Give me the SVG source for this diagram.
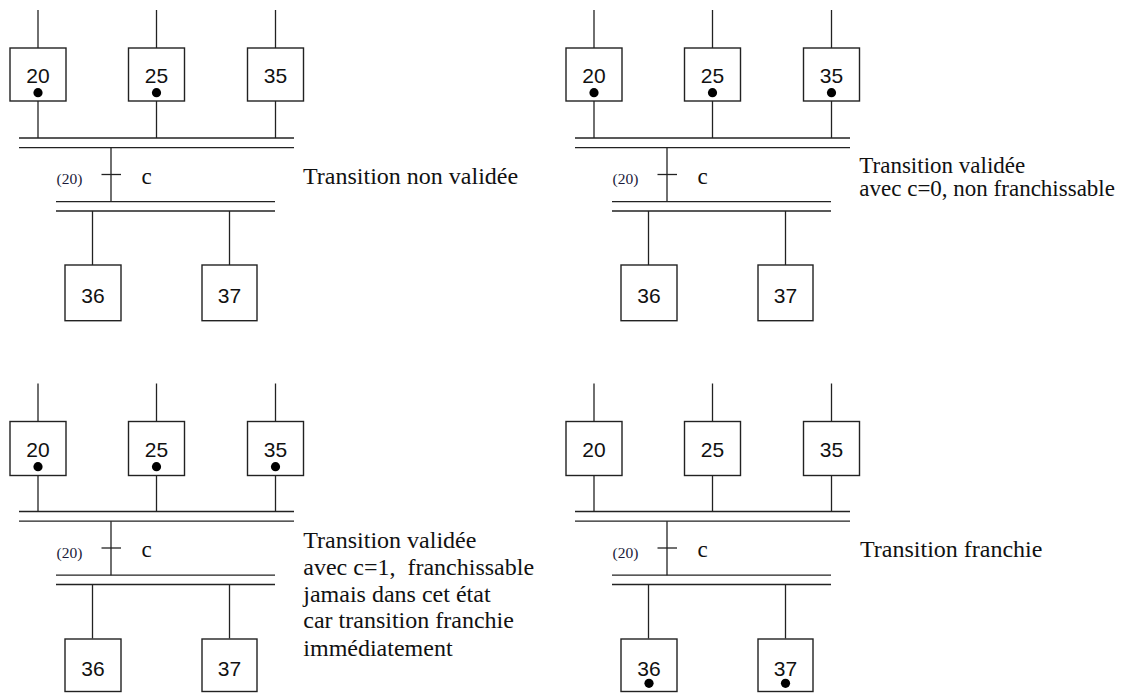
<svg xmlns="http://www.w3.org/2000/svg" width="1135" height="694" viewBox="0 0 1135 694">
  <style>
    .ln { stroke: #222; stroke-width: 1.3; fill: none; }
    .box { fill: #fff; stroke: #222; stroke-width: 1.4; }
    .num { font-family: "Liberation Sans", Arial, sans-serif; font-size: 21px; fill: #111; text-anchor: middle; }
    .rcp { font-family: "Liberation Serif", "Times New Roman", serif; font-size: 23px; fill: #111; }
    .ref { font-family: "Liberation Serif", "Times New Roman", serif; font-size: 15.5px; fill: #1a1a3a; }
    .lbl { font-family: "Liberation Serif", "Times New Roman", serif; font-size: 24px; fill: #111; }
    .lbl2 { font-family: "Liberation Serif", "Times New Roman", serif; font-size: 23px; fill: #111; }
    .tok { fill: #000; }
  </style>
  <defs>
    <!-- common wiring of one divergence/convergence-in-AND stage -->
    <g id="wiring">
      <!-- incoming links of the upper steps -->
      <line class="ln" x1="38" y1="10" x2="38" y2="48"/>
      <line class="ln" x1="156.5" y1="10" x2="156.5" y2="48"/>
      <line class="ln" x1="275.5" y1="10" x2="275.5" y2="48"/>
      <!-- upper steps to synchronisation bar -->
      <line class="ln" x1="38" y1="101" x2="38" y2="138"/>
      <line class="ln" x1="156.5" y1="101" x2="156.5" y2="138"/>
      <line class="ln" x1="275.5" y1="101" x2="275.5" y2="138"/>
      <!-- upper double bar -->
      <line class="ln" x1="19" y1="138" x2="294" y2="138"/>
      <line class="ln" x1="19" y1="147.7" x2="294" y2="147.7"/>
      <!-- transition -->
      <line class="ln" x1="111" y1="147.7" x2="111" y2="201.7"/>
      <line class="ln" x1="101.5" y1="174.5" x2="121" y2="174.5"/>
      <!-- lower double bar -->
      <line class="ln" x1="56" y1="201.7" x2="275" y2="201.7"/>
      <line class="ln" x1="56" y1="211" x2="275" y2="211"/>
      <!-- bar to lower steps -->
      <line class="ln" x1="92.5" y1="211" x2="92.5" y2="265"/>
      <line class="ln" x1="229.5" y1="211" x2="229.5" y2="265"/>
    </g>
  </defs>

  <!-- Stage 1: transition not enabled -->
  <g id="stage1">
    <g id="stage1-connectors"><use href="#wiring"/></g>
    <g id="stage1-s20"><rect class="box" x="10" y="48" width="56" height="53"/><text class="num" x="38" y="83.3">20</text><circle class="tok" cx="38" cy="92.7" r="4.6"/></g>
    <g id="stage1-s25"><rect class="box" x="128.5" y="48" width="56" height="53"/><text class="num" x="156.5" y="83.3">25</text><circle class="tok" cx="156.5" cy="92.7" r="4.6"/></g>
    <g id="stage1-s35"><rect class="box" x="247.5" y="48" width="56" height="53"/><text class="num" x="275.5" y="83.3">35</text></g>
    <g id="stage1-t"><text class="ref" x="56.5" y="183.5">(20)</text><text class="rcp" x="141.5" y="183.5">c</text></g>
    <g id="stage1-s36"><rect class="box" x="65" y="265" width="56" height="55.7"/><text class="num" x="93" y="303.3">36</text></g>
    <g id="stage1-s37"><rect class="box" x="202" y="265" width="55" height="55.7"/><text class="num" x="229.5" y="303.3">37</text></g>
    <text class="lbl" x="303" y="184">Transition non validée</text>
  </g>

  <!-- Stage 2: enabled, receptivity false -->
  <g id="stage2" transform="translate(556,0)">
    <g id="stage2-connectors"><use href="#wiring"/></g>
    <g id="stage2-s20"><rect class="box" x="10" y="48" width="56" height="53"/><text class="num" x="38" y="83.3">20</text><circle class="tok" cx="38" cy="92.7" r="4.6"/></g>
    <g id="stage2-s25"><rect class="box" x="128.5" y="48" width="56" height="53"/><text class="num" x="156.5" y="83.3">25</text><circle class="tok" cx="156.5" cy="92.7" r="4.6"/></g>
    <g id="stage2-s35"><rect class="box" x="247.5" y="48" width="56" height="53"/><text class="num" x="275.5" y="83.3">35</text><circle class="tok" cx="275.5" cy="92.7" r="4.6"/></g>
    <g id="stage2-t"><text class="ref" x="56.5" y="183.5">(20)</text><text class="rcp" x="141.5" y="183.5">c</text></g>
    <g id="stage2-s36"><rect class="box" x="65" y="265" width="56" height="55.7"/><text class="num" x="93" y="303.3">36</text></g>
    <g id="stage2-s37"><rect class="box" x="202" y="265" width="55" height="55.7"/><text class="num" x="229.5" y="303.3">37</text></g>
    <text class="lbl2" x="303.3" y="173">Transition validée</text>
    <text class="lbl2" x="303.3" y="196">avec c=0, non franchissable</text>
  </g>

  <!-- Stage 3: enabled, receptivity true -->
  <g id="stage3" transform="translate(0,373.5)">
    <g id="stage3-connectors"><use href="#wiring"/></g>
    <g id="stage3-s20"><rect class="box" x="10" y="48" width="56" height="54"/><text class="num" x="38" y="83.8">20</text><circle class="tok" cx="38" cy="93.2" r="4.6"/></g>
    <g id="stage3-s25"><rect class="box" x="128.5" y="48" width="56" height="54"/><text class="num" x="156.5" y="83.8">25</text><circle class="tok" cx="156.5" cy="93.2" r="4.6"/></g>
    <g id="stage3-s35"><rect class="box" x="247.5" y="48" width="56" height="54"/><text class="num" x="275.5" y="83.8">35</text><circle class="tok" cx="275.5" cy="93.2" r="4.6"/></g>
    <g id="stage3-t"><text class="ref" x="56.5" y="184">(20)</text><text class="rcp" x="141.5" y="183.5">c</text></g>
    <g id="stage3-s36"><rect class="box" x="65" y="265.5" width="56" height="52.5"/><text class="num" x="93" y="302.5">36</text></g>
    <g id="stage3-s37"><rect class="box" x="202" y="265.5" width="55" height="52.5"/><text class="num" x="229.5" y="302.5">37</text></g>
    <text class="lbl" x="303.3" y="174.8">Transition validée</text>
    <text class="lbl" x="303.3" y="201.5">avec c=1,&#160; franchissable</text>
    <text class="lbl" x="303.3" y="228">jamais dans cet état</text>
    <text class="lbl" x="303.3" y="254.8">car transition franchie</text>
    <text class="lbl" x="303.3" y="282">immédiatement</text>
  </g>

  <!-- Stage 4: transition fired -->
  <g id="stage4" transform="translate(556,373.5)">
    <g id="stage4-connectors"><use href="#wiring"/></g>
    <g id="stage4-s20"><rect class="box" x="10" y="48" width="56" height="54"/><text class="num" x="38" y="83.8">20</text></g>
    <g id="stage4-s25"><rect class="box" x="128.5" y="48" width="56" height="54"/><text class="num" x="156.5" y="83.8">25</text></g>
    <g id="stage4-s35"><rect class="box" x="247.5" y="48" width="56" height="54"/><text class="num" x="275.5" y="83.8">35</text></g>
    <g id="stage4-t"><text class="ref" x="56.5" y="184">(20)</text><text class="rcp" x="141.5" y="183.5">c</text></g>
    <g id="stage4-s36"><rect class="box" x="65" y="265.5" width="56" height="52.5"/><text class="num" x="93" y="302.5">36</text><circle class="tok" cx="93" cy="309.8" r="4.6"/></g>
    <g id="stage4-s37"><rect class="box" x="202" y="265.5" width="55" height="52.5"/><text class="num" x="229.5" y="302.5">37</text><circle class="tok" cx="229.5" cy="309.8" r="4.6"/></g>
    <text class="lbl" x="304" y="183.5">Transition franchie</text>
  </g>
</svg>
